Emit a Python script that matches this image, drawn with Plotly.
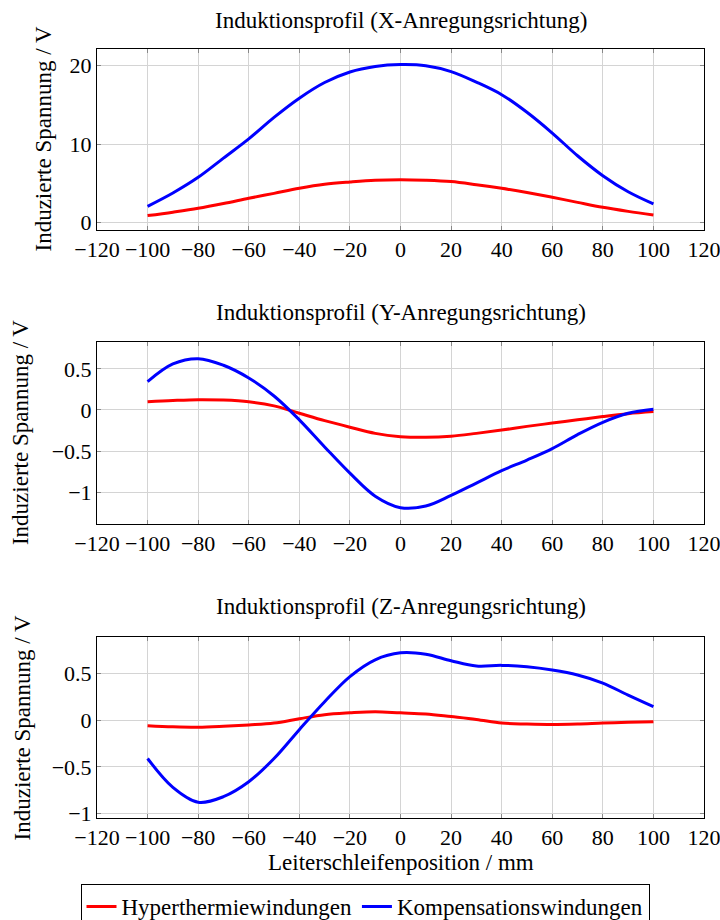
import plotly.graph_objects as go
from plotly.subplots import make_subplots

# ---------------- data ----------------
position_mm = [-100, -90, -80, -70, -60, -50, -40, -30, -20, -10, 0,
               10, 20, 30, 40, 50, 60, 70, 80, 90, 100]

x_hyper = [0.86, 1.30, 1.79, 2.40, 3.07, 3.70, 4.34, 4.85, 5.15, 5.38, 5.45,
           5.38, 5.20, 4.80, 4.34, 3.80, 3.20, 2.55, 1.92, 1.40, 0.94]
x_komp = [2.05, 3.75, 5.75, 8.20, 10.65, 13.40, 15.85, 17.85, 19.20, 19.90, 20.14,
          20.00, 19.25, 17.90, 16.30, 14.05, 11.40, 8.50, 5.95, 3.90, 2.35]

y_hyper = [0.10, 0.115, 0.125, 0.12, 0.10, 0.05, -0.04, -0.13, -0.21, -0.285, -0.325,
           -0.333, -0.32, -0.285, -0.245, -0.20, -0.16, -0.12, -0.08, -0.045, -0.02]
y_komp = [0.345, 0.56, 0.625, 0.545, 0.39, 0.17, -0.12, -0.45, -0.77, -1.05, -1.19,
          -1.17, -1.04, -0.89, -0.74, -0.61, -0.47, -0.30, -0.15, -0.04, 0.01]

z_hyper = [-0.057, -0.07, -0.075, -0.065, -0.05, -0.03, 0.017, 0.06, 0.08, 0.092, 0.08,
           0.068, 0.04, 0.01, -0.03, -0.04, -0.045, -0.04, -0.03, -0.022, -0.015]
z_komp = [-0.41, -0.72, -0.88, -0.82, -0.66, -0.41, -0.10, 0.20, 0.47, 0.65, 0.725,
          0.71, 0.64, 0.583, 0.59, 0.575, 0.54, 0.487, 0.40, 0.27, 0.146]

titles = ["Induktionsprofil (X-Anregungsrichtung)",
          "Induktionsprofil (Y-Anregungsrichtung)",
          "Induktionsprofil (Z-Anregungsrichtung)"]
series_names = ["Hyperthermiewindungen", "Kompensationswindungen"]
x_ticks = [-120, -100, -80, -60, -40, -20, 0, 20, 40, 60, 80, 100, 120]
y_ticks = [[0, 10, 20], [-1, -0.5, 0, 0.5], [-1, -0.5, 0, 0.5]]
y_ranges = [[-0.98, 22.13], [-1.389, 0.828], [-1.049, 0.895]]
y_label = "Induzierte Spannung / V"
x_label = "Leiterschleifenposition / mm"

# ---------------- figure ----------------
FONT = "Liberation Serif"
FS_TICK = 22
FS = 23
RED = "#ff0000"
BLUE = "#0000ff"

fig = make_subplots(rows=3, cols=1)
datasets = [(x_hyper, x_komp), (y_hyper, y_komp), (z_hyper, z_komp)]
for i, (h, k) in enumerate(datasets):
    r = i + 1
    fig.add_trace(go.Scatter(x=position_mm, y=h, mode="lines", name=series_names[0],
                             line=dict(color=RED, width=3, shape="spline", smoothing=1.0),
                             showlegend=(i == 0)), row=r, col=1)
    fig.add_trace(go.Scatter(x=position_mm, y=k, mode="lines", name=series_names[1],
                             line=dict(color=BLUE, width=3, shape="spline", smoothing=1.0),
                             showlegend=(i == 0)), row=r, col=1)

domains = [[0.7646, 1.0], [0.3823, 0.619], [0.0, 0.2354]]
axis_common = dict(showline=True, linecolor="black", linewidth=1, mirror="ticks",
                   ticks="inside", ticklen=4, tickcolor="#888888",
                   showgrid=True, gridcolor="#d4d4d4", gridwidth=1,
                   zeroline=False, automargin=False, ticklabeloverflow="allow",
                   tickfont=dict(family=FONT, size=FS_TICK, color="black"))
for i in range(3):
    xa = "xaxis" if i == 0 else f"xaxis{i+1}"
    ya = "yaxis" if i == 0 else f"yaxis{i+1}"
    fig.layout[xa].update(range=[-120, 120], tickvals=x_ticks, domain=[0, 1], **axis_common)
    fig.layout[ya].update(range=y_ranges[i], tickvals=y_ticks[i], domain=domains[i],
                          **axis_common)

ann = []
title_y = [1.0377, 0.6567, 0.2744]
ylab_x = [-0.0873, -0.125, -0.122]
ylab_y = [0.8823, 0.5007, 0.1177]
for i in range(3):
    ann.append(dict(text=titles[i], x=0.5, y=title_y[i], xref="paper", yref="paper",
                    xanchor="center", yanchor="middle", showarrow=False,
                    font=dict(family=FONT, size=FS, color="black")))
    ann.append(dict(text=y_label, x=ylab_x[i], y=ylab_y[i], xref="paper", yref="paper",
                    xanchor="center", yanchor="middle", textangle=-90, showarrow=False,
                    font=dict(family=FONT, size=FS, color="black")))
ann.append(dict(text=x_label, x=0.5, y=-0.0585, xref="paper", yref="paper",
                xanchor="center", yanchor="middle", showarrow=False,
                font=dict(family=FONT, size=FS, color="black")))

fig.update_layout(
    width=720, height=920,
    margin=dict(l=97, r=16, t=49, b=102, autoexpand=False),
    paper_bgcolor="white", plot_bgcolor="white",
    annotations=ann,
    legend=dict(orientation="h", x=365 / 720, y=1 - 884 / 920,
                xref="container", yref="container",
                xanchor="center", yanchor="top",
                bordercolor="black", borderwidth=1, bgcolor="white",
                font=dict(family=FONT, size=FS, color="black"),
                itemwidth=30, tracegroupgap=0),
)

fig.write_html("out.html")
